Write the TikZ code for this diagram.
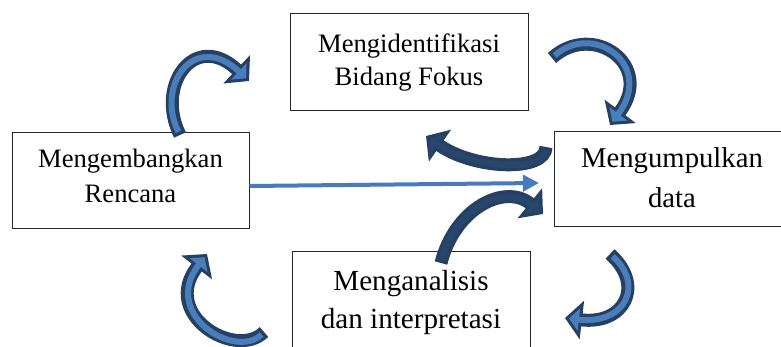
\documentclass[tikz,border=0pt]{standalone}
\usepackage{fontspec}
\setmainfont{Liberation Serif}
\usetikzlibrary{arrows.meta}

\definecolor{arrowline}{RGB}{37,64,97}
\definecolor{arrowfill}{RGB}{74,126,187}
\definecolor{arrowdeep}{RGB}{40,70,108}
\definecolor{lineblue}{RGB}{72,122,192}

\tikzset{
  stage/.style={draw=black!85, line width=1pt, fill=white, align=center, inner sep=0pt},
  curvout/.style={line width=13pt, draw=arrowline, -{Triangle[width=38pt,length=17pt]}},
  curvin/.style={line width=6pt, draw=arrowfill, shorten <=3.5pt, shorten >=4pt, -{Triangle[width=22pt,length=10pt]}},
  flatarrow/.style={line width=4pt, draw=lineblue, -{Triangle[width=16pt,length=16pt]}}
}
\newcommand{\swoosh}[2][arrowfill]{\draw[curvout] #2; \draw[curvin, draw=#1] #2;}

\begin{document}
\begin{tikzpicture}[x=1pt, y=-1pt]
\useasboundingbox (0,0) rectangle (781,347);

\node[stage, minimum width=238pt, minimum height=97pt, font=\fontsize{26.6}{33}\selectfont] (fokus) at (409,62.5) {Mengidentifikasi\\Bidang Fokus};
\node[stage, minimum width=237pt, minimum height=96pt, font=\fontsize{26.6}{35}\selectfont] (rencana) at (130.5,181) {Mengembangkan\\Rencana\rule[-11pt]{0pt}{11pt}};
\node[stage, minimum width=236pt, minimum height=95pt, font=\fontsize{28.7}{40}\selectfont] (data) at (672,179.5) {Mengumpulkan\\data\rule[-4.6pt]{0pt}{4.6pt}};
\node[stage, minimum width=238pt, minimum height=101pt, font=\fontsize{29.1}{38}\selectfont] (analisis) at (411,302.5) {Menganalisis\\dan interpretasi};

\coordinate (datatip) at (539,183);
\draw[flatarrow] ([yshift=-5pt]rencana.east) -- (datatip);

% curved block arrows
\swoosh{(180,135) .. controls (155,85) and (195,30) .. (249,81)}
\swoosh{(552,58) .. controls (593,21) and (655,65) .. (610,125)}
\swoosh[arrowdeep]{(546,147) .. controls (546,172) and (475,170) .. (426,136)}
\swoosh[arrowdeep]{(441,263) .. controls (455,208) and (505,183) .. (543,214)}
\swoosh{(264,332) .. controls (236,360) and (160,315) .. (207,254)}
\swoosh{(610,254) .. controls (645,285) and (625,325) .. (565,318)}

\end{tikzpicture}
\end{document}
